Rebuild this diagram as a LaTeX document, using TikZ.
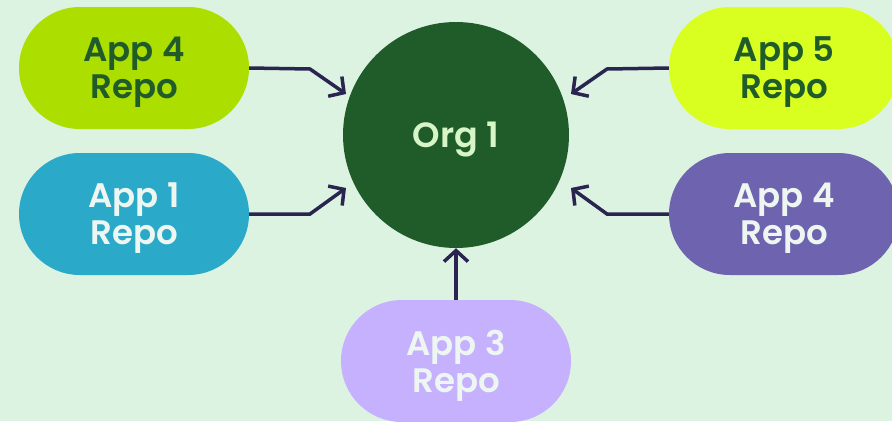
\documentclass[tikz,border=0pt]{standalone}
\usepackage{fontspec}
\setmainfont{Poppins}[UprightFont={* SemiBold}, BoldFont={* Bold}]
\usetikzlibrary{arrows.meta}

\definecolor{bgmint}{HTML}{DDF3E2}
\definecolor{lime}{HTML}{ACDE00}
\definecolor{neon}{HTML}{D8FF1F}
\definecolor{teal}{HTML}{2AA9C8}
\definecolor{violet}{HTML}{6E63AE}
\definecolor{lavender}{HTML}{C6B1FF}
\definecolor{forest}{HTML}{1F5C2A}
\definecolor{paleleaf}{HTML}{D6F6C8}
\definecolor{softwhite}{HTML}{EEF6F2}
\definecolor{ink}{HTML}{2A2550}

\tikzset{
  pill/.style={rectangle, rounded corners=60.9pt, minimum width=230pt,
    minimum height=122pt, inner sep=0pt, align=center, text depth=0pt,
    font=\fontsize{34}{37}\selectfont},
  hub/.style={circle, minimum size=226pt, inner sep=0pt, fill=forest,
    text=paleleaf, text depth=0pt, font=\fontsize{35}{38}\selectfont},
  feed/.style={draw=ink, line width=3.5pt, line join=miter,
    -{Straight Barb[length=11pt, width=24pt, line width=3.5pt]}}
}

\begin{document}
\begin{tikzpicture}[x=1pt, y=-1pt]
  \fill[bgmint] (0,0) rectangle (892,421);
  \clip (0,0) rectangle (892,421);
  \useasboundingbox (0,0) rectangle (892,421);

  % central organisation
  \node[hub] (org) at (456,135) {Org 1};

  % repositories around it
  \node[pill, fill=lime, text=forest] (a4l) at (134,68) {App 4\\Repo};
  \node[pill, fill=teal, text=softwhite] (a1) at (134,214) {App 1\\Repo};
  \node[pill, fill=neon, text=forest] (a5) at (784,68) {App 5\\Repo};
  \node[pill, fill=violet, text=softwhite] (a4r) at (784,214) {App 4\\Repo};
  \node[pill, fill=lavender, text=softwhite] (a3) at (456,361) {App 3\\Repo};

  % elbow points and arrow tips of the connectors
  \coordinate (k1) at (310,69);
  \coordinate (k2) at (310,214);
  \coordinate (k3) at (607,69);
  \coordinate (k4) at (607,214);
  \coordinate (t1) at (346,94);
  \coordinate (t2) at (346,188);
  \coordinate (t3) at (571,94);
  \coordinate (t4) at (571,188);

  \draw[feed] (a4l.east) -- (k1) -- (t1);
  \draw[feed] (a1.east) -- (k2) -- (t2);
  \draw[feed] (a5.west) -- (k3) -- (t3);
  \draw[feed] (a4r.west) -- (k4) -- (t4);
  \draw[feed] (a3.north) -- (org.south);
\end{tikzpicture}
\end{document}
